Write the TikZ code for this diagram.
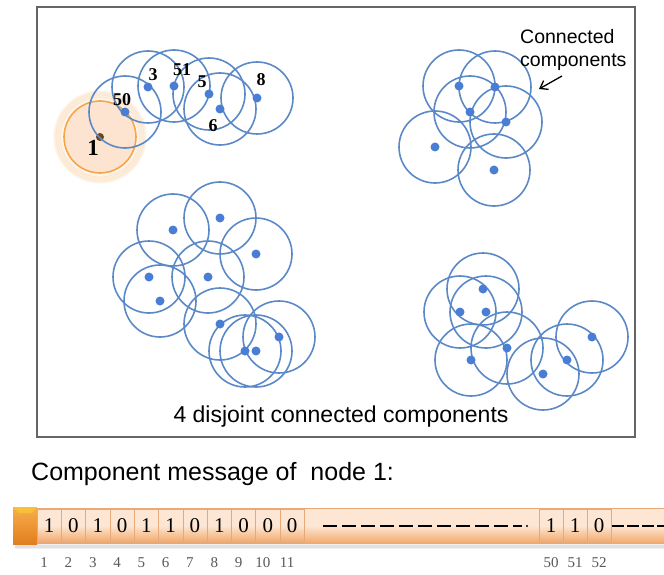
\documentclass[tikz,border=0pt]{standalone}
\usepackage{fontspec}
\setmainfont{Liberation Serif}
\setsansfont{Liberation Sans}
\usepackage{tikz}
\usetikzlibrary{arrows.meta}
\definecolor{ringblue}{HTML}{5B88C6}
\definecolor{dotblue}{HTML}{4A7ED4}
\definecolor{glow}{HTML}{F5A448}
\definecolor{peach}{HTML}{FCE4D0}
\definecolor{barhi}{HTML}{FDE7D4}
\definecolor{barlo}{HTML}{F2A96C}
\definecolor{barline}{HTML}{E7A977}
\definecolor{caphi}{HTML}{F9AE4C}
\definecolor{caplo}{HTML}{E17E1E}

\begin{document}
\begin{tikzpicture}[
  x=1pt, y=-1pt,
  ring/.style={draw=ringblue, line width=1.6pt},
  spot/.style={fill=dotblue},
  nlbl/.style={font=\fontsize{18}{18}\selectfont\bfseries, inner sep=0pt},
  txt/.style={font=\sffamily\fontsize{23}{23}\selectfont, inner sep=0pt},
  bitcell/.style={draw=barline, line width=0.6pt, top color=barhi, bottom color=barlo, middle color=barhi},
  bit/.style={font=\fontsize{21}{21}\selectfont, inner sep=0pt},
  bitidx/.style={font=\fontsize{15}{15}\selectfont, text=black!65, inner sep=0pt},
  dashline/.style={line width=1.8pt, dash pattern=on 14pt off 5pt}
]
\useasboundingbox[fill=white] (0,0) rectangle (664,575);

%========== frame with the four components ==========
\draw[line width=1.5pt, black!60] (37,7) rectangle (635,437);

% node 1 with its orange glow
\foreach \g in {9,7,5,3}{\draw[glow, line width=3pt, opacity=0.14] (100,137) circle (36+\g);}
\draw[fill=peach, draw=glow, line width=1.6pt] (100,137) circle (36);
\fill[black!45!brown] (100,137) circle (4);

% component 1 (the one with node 1)
\foreach \p in {(125,112),(148,87),(174,86),(209,94),(220,109),(257,98)}{\draw[ring] \p circle (36);}
\foreach \p in {(125,112),(148,87),(174,86),(209,94),(220,109),(257,98)}{\fill[spot] \p circle (4.5);}
\node[nlbl, font=\fontsize{23}{23}\selectfont\bfseries] (l1) at (93,148) {1};
\node[nlbl] (l50) at (122,100) {50};
\node[nlbl] (l3) at (153,75) {3};
\node[nlbl] (l51) at (182,70) {51};
\node[nlbl] (l5) at (202,82) {5};
\node[nlbl] (l6) at (213,126) {6};
\node[nlbl] (l8) at (261,80) {8};

% component 2
\foreach \p in {(459,86),(495,87),(470,112),(506,122),(435,147),(494,170)}{\draw[ring] \p circle (36);}
\foreach \p in {(459,86),(495,87),(470,112),(506,122),(435,147),(494,170)}{\fill[spot] \p circle (4.5);}
\node[font=\sffamily\fontsize{19.5}{23}\selectfont, align=left, anchor=north west, inner sep=0pt] (cc) at (520,29) {Connected\\components};
\coordinate (cctip) at (539,89);
\draw[-{Straight Barb[length=7pt,width=10pt]}, line width=1.3pt] (562,76) -- (cctip);

% component 3
\foreach \p in {(173,230),(220,218),(256,254),(149,277),(208,277),(160,301),(220,324),(245,351),(256,351),(279,337)}{\draw[ring] \p circle (36);}
\foreach \p in {(173,230),(220,218),(256,254),(149,277),(208,277),(160,301),(220,324),(245,351),(256,351),(279,337)}{\fill[spot] \p circle (4.5);}

% component 4
\foreach \p in {(483,289),(460,312),(486,312),(507,348),(471,360),(543,374),(567,360),(592,337)}{\draw[ring] \p circle (36);}
\foreach \p in {(483,289),(460,312),(486,312),(507,348),(471,360),(543,374),(567,360),(592,337)}{\fill[spot] \p circle (4.5);}

\node[txt, anchor=base] (cap) at (341,422) {4 disjoint connected components};

%========== component message of node 1 ==========
\node[txt, font=\sffamily\fontsize{25}{25}\selectfont, anchor=base west] (msg) at (31,480) {Component message of\ \ node 1:};

% shadow and bar body
\foreach \s in {1,2,3,4}{\draw[black, opacity=0.06, line width=2pt] (15,544+\s) -- (664,544+\s);}
\fill[bitcell] (37,508) rectangle (666,543);
\shade[top color=caphi, bottom color=caplo] (13,507) rectangle (37,544);
\fill[caphi!60!yellow, opacity=0.6] (13,507) -- (37,507) -- (31,513) -- (19,513) -- cycle;

\foreach \b [count=\i] in {1,0,1,0,1,1,0,1,0,0,0}{
  \draw[bitcell] ({37+(\i-1)*24.3},509) rectangle ({37+\i*24.3},542);
  \node[bit] (b\i) at ({37+(\i-0.5)*24.3},526) {\b};
  \node[bitidx] (i\i) at ({37+(\i-0.5)*24.3-5},563) {\i};
}
\foreach \b [count=\i from 50] in {1,1,0}{
  \draw[bitcell] ({539+(\i-50)*24},509) rectangle ({539+(\i-49)*24},542);
  \node[bit] (b\i) at ({539+(\i-49.5)*24},526) {\b};
  \node[bitidx] (i\i) at ({539+(\i-49.5)*24},563) {\i};
}
\draw[dashline] (323,526) -- (522,526);
\fill (527,526) circle (1.1);
\draw[line width=1.8pt, dash pattern=on 12pt off 3pt] (612,526) -- (664,526);
\end{tikzpicture}
\end{document}
